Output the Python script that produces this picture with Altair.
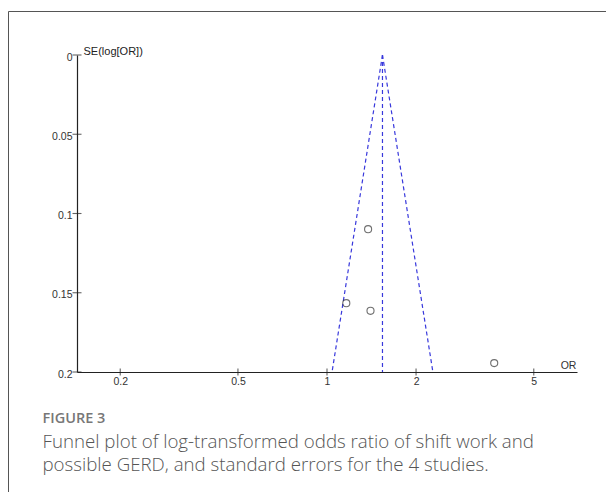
import altair as alt
import pandas as pd

# ---- data ----
study_or = [1.377, 1.162, 1.403, 3.675]
study_se = [0.1099, 0.1566, 0.1614, 0.1944]

# funnel (pooled estimate and 95% limits at SE = 0.2)
funnel_top_or = [1.54, 1.54, 1.54]
funnel_top_se = [0.0, 0.0, 0.0]
funnel_bot_or = [1.04, 1.54, 2.28]
funnel_bot_se = [0.2, 0.2, 0.2]

x_ticks = [0.2, 0.5, 1, 2, 5]
y_ticks = [0, 0.05, 0.1, 0.15, 0.2]
x_domain = [1 / 7, 7]
y_domain = [0, 0.2]

caption_head = "FIGURE 3"
caption_lines = [
    "Funnel plot of log-transformed odds ratio of shift work and",
    "possible GERD, and standard errors for the 4 studies.",
]

pts = pd.DataFrame({"OR": study_or, "SE": study_se})
fun = pd.DataFrame({"x": funnel_top_or, "y": funnel_top_se,
                    "x2": funnel_bot_or, "y2": funnel_bot_se})
xt = pd.DataFrame({"x": x_ticks, "y": [y_domain[1]] * len(x_ticks)})
yt = pd.DataFrame({"y": y_ticks, "x": [x_domain[0]] * len(y_ticks)})

FONT = "Liberation Sans"

xscale = alt.Scale(type="log", domain=x_domain, nice=False)
yscale = alt.Scale(domain=y_domain, reverse=True, nice=False, zero=False)

xaxis = alt.Axis(values=x_ticks, ticks=False, grid=False, domainColor="#222",
                 domainWidth=1.2, labelFont=FONT, labelFontSize=10.5,
                 labelColor="#333", labelPadding=4, labelBaseline="top",
                 labelExpr="datum.value", title="OR", titleFont=FONT,
                 titleFontSize=10.5, titleFontWeight="normal", titleColor="#333",
                 titleX=491, titleY=-7, titleAlign="center",
                 titleBaseline="middle", titleAngle=0)
yaxis = alt.Axis(values=y_ticks, ticks=False, grid=False, domainColor="#222",
                 domainWidth=1.2, labelFont=FONT, labelFontSize=10.5,
                 labelColor="#333", labelPadding=5, labelOffset=2,
                 labelExpr="datum.value", title="SE(log[OR])", titleFont=FONT,
                 titleFontSize=11, titleFontWeight="normal",
                 titleColor="#222", titleX=6, titleY=-4, titleAlign="left",
                 titleBaseline="middle", titleAngle=0)

funnel = alt.Chart(fun).mark_rule(
    color="#3838dc", strokeDash=[4, 3], strokeWidth=1.2
).encode(
    x=alt.X("x:Q", scale=xscale, axis=xaxis),
    y=alt.Y("y:Q", scale=yscale, axis=yaxis),
    x2="x2:Q",
    y2="y2:Q",
)

points = alt.Chart(pts).mark_point(
    shape="circle", filled=False, color="#333", strokeWidth=1.1, size=50
).encode(
    x=alt.X("OR:Q", scale=xscale),
    y=alt.Y("SE:Q", scale=yscale),
)

xticks = alt.Chart(xt).mark_tick(
    orient="vertical", size=7, thickness=1.1, color="#222"
).encode(x=alt.X("x:Q", scale=xscale), y=alt.Y("y:Q", scale=yscale))

yticks = alt.Chart(yt).mark_tick(
    orient="horizontal", size=9, thickness=1.1, color="#222"
).encode(x=alt.X("x:Q", scale=xscale), y=alt.Y("y:Q", scale=yscale))

one = alt.Data(values=[{"a": 1}])

card = alt.Chart(one).mark_rect(
    fill="white", fillOpacity=0, stroke="#555", strokeWidth=1
).encode(
    x=alt.value(-68.5), x2=alt.value(600), y=alt.value(-43.5), y2=alt.value(600)
)

head = alt.Chart(one).mark_text(
    text=caption_head, align="left", baseline="alphabetic", font="Open Sans",
    fontSize=14.5, fontWeight=600, color="#777"
).encode(x=alt.value(-34.5), y=alt.value(368))

line1 = alt.Chart(one).mark_text(
    text=caption_lines[0], align="left", baseline="alphabetic",
    font="Open Sans", fontSize=18.7, fontWeight=300, color="#555"
).encode(x=alt.value(-34.5), y=alt.value(392.5))

line2 = alt.Chart(one).mark_text(
    text=caption_lines[1], align="left", baseline="alphabetic",
    font="Open Sans", fontSize=18.7, fontWeight=300, color="#555"
).encode(x=alt.value(-34.5), y=alt.value(415.5))

chart = alt.layer(
    card, funnel, xticks, yticks, points, head, line1, line2
).properties(
    width=500, height=317,
    padding={"left": 69, "top": 47, "right": 29, "bottom": 120},
    autosize=alt.AutoSizeParams(type="none"),
    background="white",
).configure_view(stroke=None)

chart.save("out.html", embed_options={"renderer": "svg", "actions": False})
